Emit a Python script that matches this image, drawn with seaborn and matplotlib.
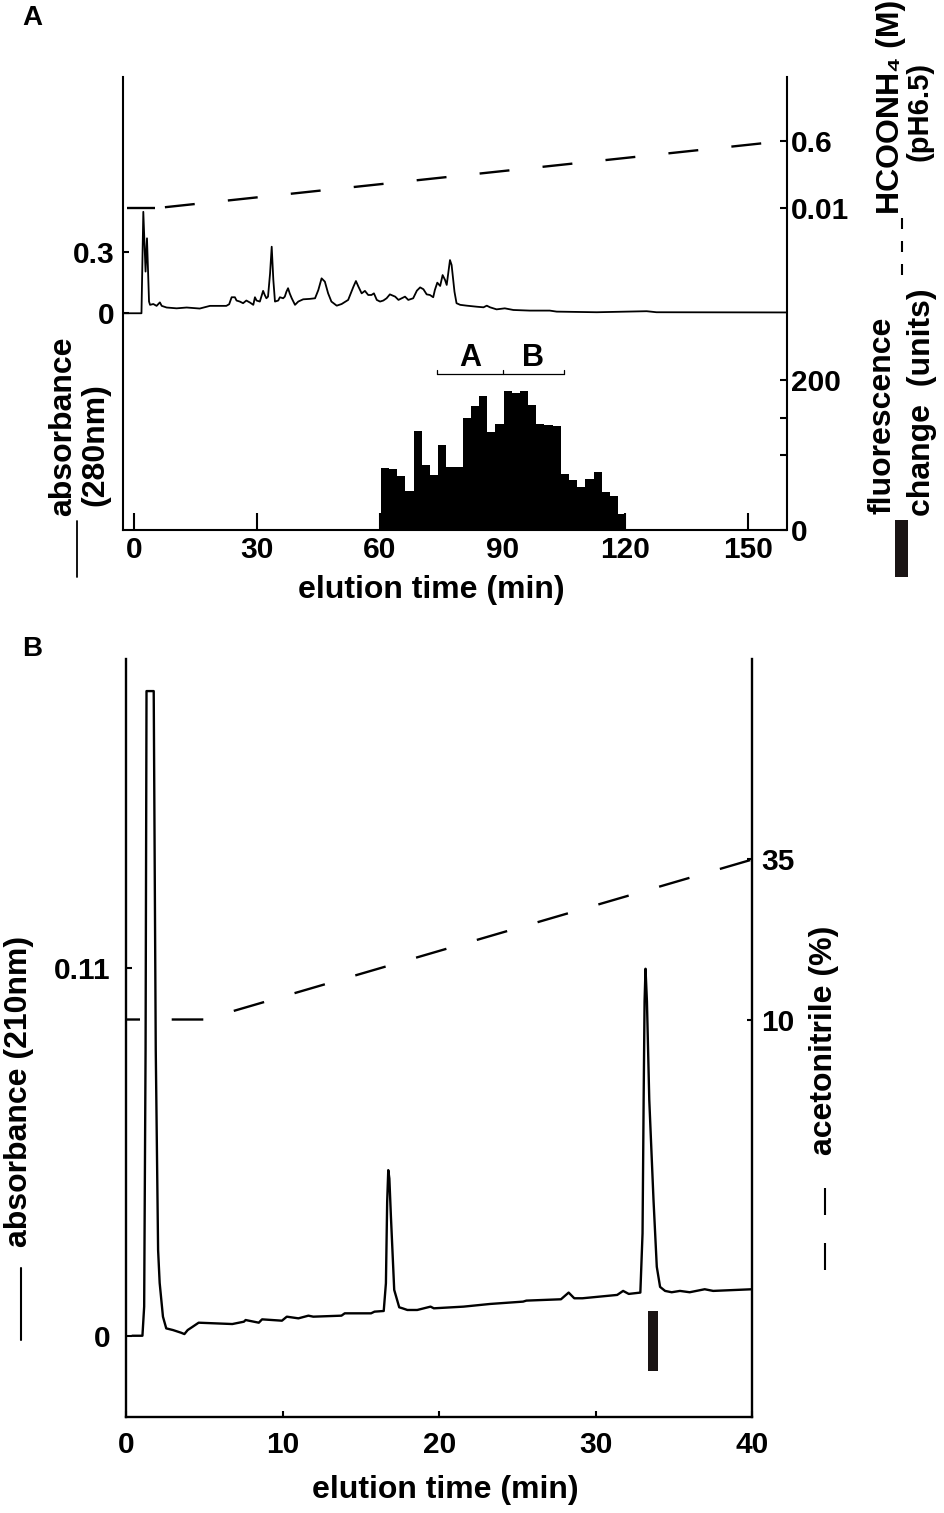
import numpy as np
import matplotlib
matplotlib.use("Agg")
import matplotlib.pyplot as plt
import seaborn as sns
from matplotlib.lines import Line2D
from matplotlib.patches import Rectangle

# ---- panel A data : anion exchange run ----
abs_a_time = [-2.84, 1.75, 2.2, 2.75, 3.1, 3.6, 3.85, 4.65, 5.45, 6.25, 6.7, 7.9,
              10.35, 12.8, 16.0, 18.5, 22.5, 23.2, 23.8, 24.6, 25.0, 25.8, 26.6,
              27.4, 28.3, 29.1, 29.5, 29.9, 30.7, 31.5, 31.9, 32.3, 32.7, 33.2,
              33.6, 34.0, 34.4, 35.2, 35.6, 36.4, 36.8, 37.2, 37.6, 38.0, 38.5,
              39.3, 40.1, 41.3, 42.9, 44.2, 45.0, 45.8, 46.6, 47.4, 48.2, 49.5,
              50.7, 52.3, 53.6, 54.2, 54.8, 55.6, 56.4, 57.2, 58.0, 58.6, 59.3,
              60.1, 60.9, 61.7, 62.5, 63.8, 64.6, 65.4, 66.2, 67.0, 68.2, 69.1,
              69.9, 70.7, 71.5, 72.3, 73.1, 73.5, 74.1, 74.8, 75.4, 76.0, 76.4,
              77.2, 77.6, 78.3, 78.8, 79.7, 81.3, 83.7, 85.4, 86.2, 87.0, 88.6,
              90.6, 92.7, 96.7, 101.6, 103.3, 113.1, 125.3, 127.7, 159.5]
abs_a_value = [0.0, 0.0, 0.494, 0.203, 0.365, 0.057, 0.041, 0.045, 0.036, 0.053,
               0.036, 0.028, 0.024, 0.028, 0.023, 0.036, 0.036, 0.044, 0.078,
               0.078, 0.062, 0.057, 0.049, 0.062, 0.052, 0.041, 0.078, 0.062,
               0.057, 0.109, 0.089, 0.073, 0.081, 0.194, 0.324, 0.162, 0.057,
               0.062, 0.078, 0.073, 0.081, 0.105, 0.122, 0.097, 0.073, 0.041,
               0.057, 0.068, 0.070, 0.073, 0.113, 0.170, 0.154, 0.097, 0.057,
               0.037, 0.045, 0.065, 0.130, 0.157, 0.130, 0.097, 0.109, 0.089,
               0.089, 0.097, 0.065, 0.057, 0.062, 0.073, 0.092, 0.081, 0.065,
               0.073, 0.081, 0.065, 0.073, 0.110, 0.126, 0.117, 0.092, 0.089,
               0.078, 0.113, 0.149, 0.133, 0.186, 0.162, 0.138, 0.259, 0.235,
               0.105, 0.049, 0.041, 0.037, 0.032, 0.029, 0.037, 0.029, 0.019,
               0.024, 0.016, 0.013, 0.013, 0.008, 0.005, 0.010, 0.005, 0.004]

# fractions of 2 min from 60.3 min, fluorescence change (units)
frac_width = 2.0
frac_time = list(np.arange(60.3, 120.0, frac_width))
frac_fluor = [82, 81, 71.5, 52, 131.5, 87, 73, 113, 84, 84, 150, 165, 179, 131,
              141, 185, 182.5, 185.6, 167, 141.6, 140.3, 138, 75, 66, 57, 68,
              77, 50.6, 45.3, 20.4]

# pooled fractions
pool_edges = [74.1, 90.1, 105.1]
pool_names = ["A", "B"]

# HCOONH4 gradient
grad_a_time = [-2.84, 5.0, 159.5]
grad_a_conc = [0.01, 0.01, 0.6]

# ---- panel B data : reversed phase run ----
abs_b_time = [0.4, 1.05, 1.16, 1.25, 1.31, 1.77, 1.90, 2.05, 2.15, 2.36, 2.57,
              3.0, 3.52, 3.73, 3.94, 4.26, 4.64, 6.79, 7.53, 7.64, 8.48, 8.69,
              9.96, 10.27, 11.01, 11.65, 11.96, 13.76, 13.97, 15.65, 15.87,
              16.46, 16.6, 16.68, 16.75, 16.82, 16.92, 17.13, 17.45, 17.66,
              17.97, 18.6, 19.45, 19.66, 21.56, 23.25, 25.36, 25.57, 27.78,
              28.27, 28.63, 29.15, 31.37, 31.75, 32.11, 32.85, 32.99, 33.06,
              33.12, 33.18, 33.27, 33.42, 33.69, 33.9, 34.11, 34.43, 34.85,
              35.38, 36.0, 36.96, 37.5, 40.0]
abs_b_value = [0.0, 0.0, 0.0087, 0.0854, 0.1927, 0.1927, 0.0854, 0.0256, 0.0158,
               0.0057, 0.0022, 0.0017, 0.0009, 0.0005, 0.0017, 0.0027, 0.0039,
               0.0035, 0.0042, 0.0047, 0.0039, 0.0049, 0.0045, 0.0057, 0.0052,
               0.0060, 0.0057, 0.0060, 0.0067, 0.0067, 0.0072, 0.0074, 0.0157,
               0.040, 0.0495, 0.047, 0.0356, 0.0137, 0.0085, 0.0082, 0.0077,
               0.0077, 0.0087, 0.0082, 0.0087, 0.0095, 0.0102, 0.0105, 0.0109,
               0.0129, 0.0112, 0.0112, 0.0122, 0.0134, 0.0125, 0.0129, 0.0306,
               0.0705, 0.100, 0.1097, 0.100, 0.0705, 0.0406, 0.0206, 0.0146,
               0.0134, 0.0130, 0.0134, 0.0130, 0.0139, 0.0134, 0.0139]

# active fraction (min) and marker level
active_frac = [33.31, 33.97]
active_level = [0.0075, -0.0105]

# acetonitrile gradient
grad_b_time = [0.0, 5.0, 40.0]
grad_b_pct = [10, 10, 35]

W, H = 945, 1513

sns.set_style("ticks")
plt.rcParams["font.family"] = ["Liberation Sans", "DejaVu Sans"]
plt.rcParams["font.weight"] = "bold"
plt.rcParams["lines.scale_dashes"] = False
plt.rcParams["axes.linewidth"] = 1.5
for k in ("text.color", "axes.labelcolor", "xtick.color", "ytick.color",
          "axes.edgecolor"):
    plt.rcParams[k] = "black"

fig = plt.figure(figsize=(W / 100, H / 100), dpi=100)


def fpos(x, y):
    return x / W, 1 - y / H


def pxpt(v):
    return v * 0.72


TICK_FS = 21.5
LAB_FS = 23

# ================= panel A =================
axA = fig.add_axes([122.7 / W, 1 - 529.5 / H, (786.5 - 122.7) / W, (529.5 - 76.7) / H])
axF = axA.twinx()
axG = axA.twinx()
for a in (axA, axF, axG):
    a.set_facecolor("none")
    a.spines["top"].set_visible(False)
axA.spines["right"].set_visible(False)
for s in ("left", "bottom"):
    axF.spines[s].set_visible(False)
    axG.spines[s].set_visible(False)
axG.spines["right"].set_visible(False)
for s in axA.spines.values():
    s.set_linewidth(1.5)
axF.spines["right"].set_linewidth(1.5)

# fluorescence bars
axF.bar(frac_time, frac_fluor, width=frac_width, align="edge", color="black",
        linewidth=0, zorder=1)
# pool brackets
br_y, br_tick = 208, 214
axF.plot([pool_edges[0], pool_edges[-1]], [br_y, br_y], color="black", lw=0.9)
for e in pool_edges:
    axF.plot([e, e], [br_y, br_tick], color="black", lw=0.9)
for i, name in enumerate(pool_names):
    axF.text((pool_edges[i] + pool_edges[i + 1]) / 2, 219, name, ha="center",
             va="baseline", fontsize=22, fontweight="bold")

sns.lineplot(x=abs_a_time, y=abs_a_value, sort=False, estimator=None,
             color="black", linewidth=1.3, ax=axA)

# gradient: flat start and linear part
axG.plot(grad_a_time[:2], grad_a_conc[:2], color="black", lw=1.7,
         linestyle=(pxpt(59.3), (pxpt(30), pxpt(33.3))))
axG.plot(grad_a_time[1:], grad_a_conc[1:], color="black", lw=1.7,
         linestyle=(pxpt(53.1), (pxpt(30), pxpt(33.3))))

axA.set_xlim(-2.84, 159.5)
axA.set_ylim(-1.053, 1.152)
axF.set_ylim(0, 606.6)
axG.set_ylim(-2.793, 1.1586)

axA.set_xticks([0, 30, 60, 90, 120, 150])
axA.set_yticks([0, 0.3])
axA.set_yticklabels(["0", "0.3"])
axF.set_yticks([0, 100, 150, 200])
axF.set_yticklabels(["0", "", "", "200"])
axG.set_yticks([0.01, 0.6])
axG.set_yticklabels(["0.01", "0.6"])

axA.tick_params(axis="x", direction="in", length=12, width=1.5, pad=5,
                labelsize=TICK_FS)
axA.tick_params(axis="y", direction="in", length=4.5, width=1.5, pad=6,
                labelsize=TICK_FS)
axF.tick_params(axis="y", direction="in", length=5, width=1.5, pad=3.5,
                labelsize=TICK_FS)
axG.tick_params(axis="y", direction="in", length=5, width=1.5, pad=3.5,
                labelsize=TICK_FS)
for a in (axA, axF, axG):
    for lab in a.get_xticklabels() + a.get_yticklabels():
        lab.set_fontweight("bold")
axA.set_xlabel("")
axA.set_ylabel("")

fig.text(*fpos(63, 426.5), "absorbance", rotation=90, ha="center", va="center",
         fontsize=LAB_FS, fontweight="bold")
fig.text(*fpos(95, 445), "(280nm)", rotation=90, ha="center", va="center",
         fontsize=LAB_FS, fontweight="bold")
fig.add_artist(Line2D([76.7 / W] * 2, [1 - 520.7 / H, 1 - 576.7 / H],
                      transform=fig.transFigure, color="black", lw=1.3))

fig.text(*fpos(891, 107), "HCOONH₄ (M)", rotation=90, ha="center", va="center",
         fontsize=LAB_FS, fontweight="bold")
fig.text(*fpos(920, 111), "(pH6.5)", rotation=90, ha="center", va="center",
         fontsize=21, fontweight="bold")
fig.add_artist(Line2D([902 / W] * 2, [1 - 218 / H, 1 - 277 / H],
                      transform=fig.transFigure, color="black", lw=1.5,
                      linestyle=(0, (pxpt(11), pxpt(12)))))

fig.text(*fpos(883, 415), "fluorescence", rotation=90, ha="center", va="center",
         fontsize=LAB_FS, fontweight="bold")
fig.text(*fpos(922, 402.5), "change  (units)", rotation=90, ha="center",
         va="center", fontsize=LAB_FS, fontweight="bold")
fig.add_artist(Rectangle((895 / W, 1 - 577 / H), 13 / W, 57 / H,
                         transform=fig.transFigure, color="#1a1414", lw=0))

fig.text(*fpos(431.5, 590), "elution time (min)", ha="center", va="center",
         fontsize=LAB_FS, fontweight="bold")
fig.text(*fpos(32, 18), "A", ha="center", va="center", fontsize=20,
         fontweight="bold")

# ================= panel B =================
axB = fig.add_axes([126 / W, 1 - 1416.7 / H, (752.3 - 126) / W, (1416.7 - 659.3) / H])
axC = axB.twinx()
for a in (axB, axC):
    a.set_facecolor("none")
    a.spines["top"].set_visible(False)
axB.spines["right"].set_visible(False)
axC.spines["left"].set_visible(False)
axC.spines["bottom"].set_visible(False)
for s in ("left", "bottom"):
    axB.spines[s].set_linewidth(1.7)
axC.spines["right"].set_linewidth(1.7)

sns.lineplot(x=abs_b_time, y=abs_b_value, sort=False, estimator=None,
             color="black", linewidth=1.7, ax=axB)
axB.bar(active_frac[0], active_level[1] - active_level[0],
        bottom=active_level[0], width=active_frac[1] - active_frac[0],
        align="edge", color="#1a1414", linewidth=0)
axC.plot(grad_b_time, grad_b_pct, color="black", lw=1.7,
         linestyle=(pxpt(17.6), (pxpt(31.6), pxpt(31.7))))

axB.set_xlim(0, 40)
axB.set_ylim(-0.0242, 0.2022)
axC.set_ylim(-52.06, 66.28)
axB.set_xticks([0, 10, 20, 30, 40])
axB.set_yticks([0, 0.11])
axB.set_yticklabels(["0", "0.11"])
axC.set_yticks([10, 35])
axB.tick_params(axis="x", direction="in", length=4.5, width=1.5, pad=10,
                labelsize=TICK_FS)
axB.tick_params(axis="y", direction="in", length=4.5, width=1.5, pad=11,
                labelsize=TICK_FS)
axC.tick_params(axis="y", direction="in", length=3.6, width=1.5, pad=6.5,
                labelsize=TICK_FS)
for a in (axB, axC):
    for lab in a.get_xticklabels() + a.get_yticklabels():
        lab.set_fontweight("bold")
axB.set_xlabel("")
axB.set_ylabel("")

fig.text(*fpos(19, 1091.5), "absorbance (210nm)", rotation=90, ha="center",
         va="center", fontsize=LAB_FS, fontweight="bold")
fig.add_artist(Line2D([21 / W] * 2, [1 - 1268 / H, 1 - 1340 / H],
                      transform=fig.transFigure, color="black", lw=1.5))
fig.text(*fpos(824, 1040), "acetonitrile (%)", rotation=90, ha="center",
         va="center", fontsize=LAB_FS, fontweight="bold")
fig.add_artist(Line2D([825 / W] * 2, [1 - 1188 / H, 1 - 1270 / H],
                      transform=fig.transFigure, color="black", lw=1.5,
                      linestyle=(0, (pxpt(27), pxpt(28)))))
fig.text(*fpos(445, 1490), "elution time (min)", ha="center", va="center",
         fontsize=LAB_FS, fontweight="bold")
fig.text(*fpos(32, 649), "B", ha="center", va="center", fontsize=20,
         fontweight="bold")

fig.savefig("out.png", dpi=100)
